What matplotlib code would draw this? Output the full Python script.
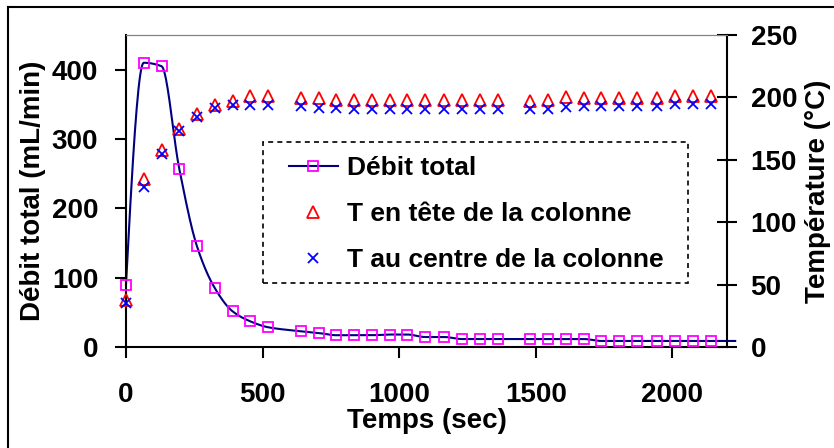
import numpy as np
import matplotlib
matplotlib.use('Agg')
import matplotlib.pyplot as plt
from matplotlib.lines import Line2D
from matplotlib.patches import Rectangle

plt.rcParams['font.family'] = ['Liberation Sans', 'DejaVu Sans']
plt.rcParams['font.weight'] = 'bold'
plt.rcParams['axes.labelweight'] = 'bold'

# ---- donnees ----
temps = [0, 65, 130, 195, 260, 325, 390, 455, 520, 640, 705, 770, 835, 900, 965,
         1030, 1095, 1165, 1230, 1295, 1360, 1480, 1545, 1610, 1675, 1740, 1806,
         1872, 1945, 2011, 2077, 2143]
debit = [90, 410, 405, 257, 145, 85, 51.5, 37, 28.5, 22.7, 20.2, 17, 17, 17, 18,
         18, 14.4, 14.4, 11.5, 11.5, 11.5, 11.5, 11.5, 11.5, 11.5, 8.7, 8.7,
         8.7, 8.7, 8.7, 8.7, 8.7]
t_tete = [37.5, 135, 157.5, 175, 187, 194, 197, 201, 201, 199.5, 199.5, 198.3,
          198.3, 198.3, 198.3, 198.3, 198.3, 198.3, 198.3, 198.3, 198.3, 197.5,
          197.8, 200, 199.6, 199.6, 199.6, 199.6, 199.6, 201.2, 201.2, 201.2]
t_centre = [35, 128, 154.5, 173, 184.5, 191.6, 193.7, 193.7, 193.7, 193.2, 191.9,
            191.6, 190.5, 190.5, 190.5, 190.5, 190.5, 190.5, 190.5, 190.5, 190.5,
            190.5, 190.5, 192.4, 193.2, 193.2, 193.2, 193.2, 193.2, 195, 195, 195]

# la courbe depasse un peu l'axe de droite
ligne_t = temps + [2230]
ligne_debit = debit + [8.7]


def lissage(x, y, n=20):
    # courbe lissee sans depassement (Hermite monotone, Fritsch-Carlson)
    x = np.asarray(x, float)
    y = np.asarray(y, float)
    h = np.diff(x)
    d = np.diff(y) / h
    m = np.zeros_like(y)
    for k in range(1, len(x) - 1):
        if d[k - 1] * d[k] > 0:
            w1 = 2 * h[k] + h[k - 1]
            w2 = h[k] + 2 * h[k - 1]
            m[k] = (w1 + w2) / (w1 / d[k - 1] + w2 / d[k])
    m0 = ((2 * h[0] + h[1]) * d[0] - h[0] * d[1]) / (h[0] + h[1])
    if np.sign(m0) != np.sign(d[0]):
        m0 = 0
    elif np.sign(d[0]) != np.sign(d[1]) and abs(m0) > 3 * abs(d[0]):
        m0 = 3 * d[0]
    m[0] = m0
    s = np.linspace(0, 1, n, endpoint=False)
    xs, ys = [], []
    for k in range(len(x) - 1):
        h00 = 2 * s ** 3 - 3 * s ** 2 + 1
        h10 = s ** 3 - 2 * s ** 2 + s
        h01 = -2 * s ** 3 + 3 * s ** 2
        h11 = s ** 3 - s ** 2
        xs.append(x[k] + s * h[k])
        ys.append(h00 * y[k] + h10 * h[k] * m[k] + h01 * y[k + 1] + h11 * h[k] * m[k + 1])
    xs.append([x[-1]])
    ys.append([y[-1]])
    return np.concatenate(xs), np.concatenate(ys)


fig = plt.figure(figsize=(8.34, 4.48), dpi=100)
ax = fig.add_axes([126 / 834, 1 - 347 / 448, 601 / 834, 312 / 448])

lx, ly = lissage(ligne_t, ligne_debit)
ax.plot(lx, ly, color='#000080', lw=1.5, clip_on=False, zorder=2)
ax.plot(temps, debit, ls='none', marker='s', ms=7, mfc='none', mec='#FF00FF',
        mew=1.3, clip_on=False, zorder=3)

ax.set_xlim(0, 2200)
ax.set_ylim(0, 450)
ax.set_xticks(range(0, 2001, 500))
ax.set_yticks(range(0, 401, 100))
ax.tick_params(axis='x', direction='out', length=8, width=1.5, pad=17, labelsize=20)
ax.tick_params(axis='y', direction='out', length=8, width=1.5, pad=12, labelsize=20)
ax.set_xlabel('Temps (sec)', fontsize=20, fontweight='bold', labelpad=0)
ax.set_ylabel('Débit total (mL/min)', fontsize=20, fontweight='bold', labelpad=4)

ax2 = ax.twinx()
ax2.plot(temps, t_tete, ls='none', marker='^', ms=9, mfc='none', mec='#FF0000',
         mew=1.3, clip_on=False, label='T en tête de la colonne')
ax2.plot(temps, t_centre, ls='none', marker='x', ms=7.5, color='#0000FF',
         mew=1.3, clip_on=False, label='T au centre de la colonne')
ax2.set_ylim(0, 250)
ax2.set_yticks(range(0, 251, 50))
ax2.tick_params(axis='y', direction='inout', length=14, width=1.5, pad=10, labelsize=20)
ax2.set_ylabel('Température (°C)', fontsize=20, fontweight='bold', labelpad=6)

for a in (ax, ax2):
    a.spines['top'].set_color('#808080')
    a.spines['top'].set_linewidth(0.8)
    for side in ('left', 'bottom', 'right'):
        a.spines[side].set_linewidth(1.5)
ax.spines['right'].set_visible(False)
ax2.spines['left'].set_visible(False)
ax2.spines['bottom'].set_visible(False)

# legende avec cadre en pointilles
h_debit = Line2D([], [], color='#000080', lw=1.5, marker='s', ms=7, mfc='none',
                 mec='#FF00FF', mew=1.3)
h_tete, h_centre = ax2.get_lines()
leg = ax2.legend([h_debit, h_tete, h_centre],
                 ['Débit total', 'T en tête de la colonne', 'T au centre de la colonne'],
                 loc='upper left', bbox_to_anchor=(0.271, 0.612), frameon=False,
                 borderpad=0, borderaxespad=0, handlelength=1.86, handletextpad=0.33,
                 labelspacing=0.83, prop={'size': 19, 'weight': 'bold'})
cadre = Rectangle((0.228, 0.205), 0.707, 0.453, transform=ax2.transAxes, fill=False,
                  ec='black', lw=1.2, ls=(0, (3, 2.5)), clip_on=False)
ax2.add_patch(cadre)

# bordure exterieure
fig.add_artist(Line2D([7.5 / 834, 7.5 / 834], [0, 1 - 7.5 / 448],
                      transform=fig.transFigure, color='black', lw=1.5))
fig.add_artist(Line2D([7.5 / 834, 1], [1 - 7.5 / 448, 1 - 7.5 / 448],
                      transform=fig.transFigure, color='black', lw=1.5))

fig.savefig('out.png', dpi=100)
